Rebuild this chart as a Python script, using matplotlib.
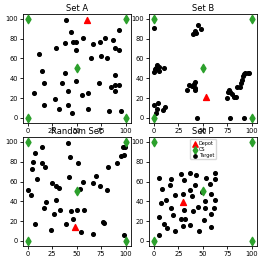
import matplotlib
matplotlib.use("Agg")
import matplotlib.pyplot as plt
import numpy as np

cs_x = [0, 100, 50, 0, 100]
cs_y = [100, 100, 50, 0, 0]

a_depot = (61, 98.6)
a_x = [39, 44, 93, 57, 79, 87, 74, 38, 46, 49, 67, 89, 93, 29, 49, 12, 65, 75, 81, 15, 38, 89,
       17, 35, 49, 73, 89, 93, 85, 7, 41, 62, 55, 89, 28, 17, 41, 32, 62, 45, 83, 95]
a_y = [99, 87, 89, 81, 81, 79, 77, 76, 77, 77, 75, 71, 69, 71, 69, 65, 61, 63, 61, 47, 45, 43,
       35, 35, 37, 35, 33, 33, 31, 25, 27, 25, 23, 27, 19, 13, 13, 9, 9, 5, 7, 7]

b_depot = (53, 21)
b_x = [0, 45, 48, 42, 43, 40,
       0, 2, 3.5, 5, 5.6, 10, 0.7,
       0, 2, 4.2, 3.5, 9, 11.8,
       34, 36, 39, 40.5, 41.5, 42, 42.2,
       44, 74, 76, 77, 78, 80, 82, 84, 85, 88, 89, 90, 91, 92, 93, 96, 97, 78, 92]
b_y = [91, 94, 90, 88, 86, 85,
       46, 50, 53, 51, 47, 50, 49,
       13, 5, 15, 9, 8, 11,
       28, 33, 32, 34, 36, 30.5, 28.5,
       0, 20, 26, 28, 26, 24, 21, 21, 31, 31, 35, 38, 42, 44, 45, 45, 45, 0, 0]

r_depot = (48, 13.6)
r_x = [41, 15, 8, 43, 5.6, 14.6, 17.4, 4.2, 51.6, 95, 98.3, 97.2, 99.3, 91, 82, 9.8, 42.5, 69.7,
       67, 25.4, 29.3, 32, 56.8, 53, 74, 81, 0.7, 3.5, 19.2, 29, 16.4, 32.8, 44.6, 50.5, 57.8,
       26.8, 46.7, 77, 78.4, 7.7, 39, 23.7, 54.4, 67.2, 98]
r_y = [99, 94.4, 88.5, 84.3, 80, 79, 75, 73, 79, 85.7, 86.8, 95, 94.4, 79, 75, 63, 65, 66,
       58.5, 59, 55.7, 53, 60, 52, 55.7, 51, 51, 46.7, 39.7, 41.5, 33, 31.7, 30.7, 31, 31.4,
       27, 22.3, 19.2, 18, 17.4, 16.7, 10.8, 9.4, 7, 5.6]

p_depot = (29.8, 39.4)
p_x = [5.2, 17, 8.3, 16, 27.3, 31, 37, 43, 53.6, 62.6, 62, 57, 42.2, 36.7, 21.5, 29.8, 39, 49,
       58, 12, 7.3, 52.2, 62, 45, 17.6, 30.4, 39.8, 52.2, 61.2, 58.5, 5.2, 19.7, 27.3, 31.8,
       51, 10, 13, 30, 36.7, 58.5, 21.5, 46.4, 5.2]
p_y = [63.8, 62.4, 52, 56.8, 67.6, 61.7, 69, 66.6, 63.8, 68.6, 62.4, 57.8, 56.4, 51.6, 46.7,
       47.7, 45, 49, 47.4, 41.8, 38, 40.8, 41.5, 34.5, 33, 31.7, 30, 33, 33, 26.8, 24.7, 25.8,
       22.6, 22, 21, 16.7, 13, 15, 16, 14.6, 9.8, 9.8, 5.9]

sets = [("Set A", a_x, a_y, a_depot), ("Set B", b_x, b_y, b_depot),
        ("Random Set", r_x, r_y, r_depot), ("Set P", p_x, p_y, p_depot)]

fig, axes = plt.subplots(2, 2, figsize=(2.63, 2.63), dpi=100)
fig.subplots_adjust(left=0.086, right=0.977, top=0.947, bottom=0.065, wspace=0.17, hspace=0.13)

for ax, (title, xs, ys, dep) in zip(axes.flat, sets):
    ax.scatter([dep[0]], [dep[1]], marker='^', color='red', s=18, zorder=3, label='Depot')
    ax.scatter(cs_x, cs_y, marker='d', color='#2ca02c', s=18, zorder=3, label='CS')
    ax.scatter(xs, ys, marker='o', color='black', s=7, zorder=2, label='Target')
    ax.set_title(title, fontsize=6, pad=2)
    ax.set_xticks([0, 25, 50, 75, 100])
    ax.set_yticks([0, 20, 40, 60, 80, 100])
    ax.tick_params(labelsize=4.8, length=2, pad=1.5, width=0.6)
    for s in ax.spines.values():
        s.set_linewidth(0.6)

axes[1, 1].legend(loc='upper center', fontsize=3.5, markerscale=0.9, frameon=True,
                  borderpad=0.3, labelspacing=0.2, handletextpad=0.2, handlelength=1.2,
                  framealpha=0.8)

fig.savefig("out.png", dpi=100)
